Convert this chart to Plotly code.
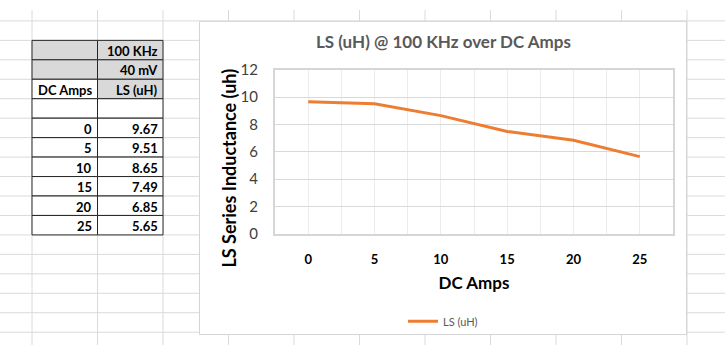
import plotly.graph_objects as go

W, H = 725, 353

# ---- data ----
dc_amps = [0, 5, 10, 15, 20, 25]
ls_uh = [9.67, 9.51, 8.65, 7.49, 6.85, 5.65]
series_name = "LS (uH)"
chart_title = "LS (uH) @ 100 KHz over DC Amps"
x_title = "DC Amps"
y_title = "LS Series Inductance (uh)"
table_col_a_head = ["", "", "DC Amps", ""]
table_col_b_head = ["100 KHz", "40 mV", "LS (uH)", ""]
y_ticks = [0, 2, 4, 6, 8, 10, 12]

FONT = "Lato"
ORANGE = "#ED7D31"

def px(x):
    return x / W

def py(y):
    return 1 - y / H

shapes = []
annotations = []
# spreadsheet grid
col_x = [32 + 65.5 * i for i in range(12)]
row_y = [11.5 + 20.5 * i for i in range(17)]
for x in col_x:
    shapes.append(dict(type="line", xref="paper", yref="paper", x0=px(x), x1=px(x), y0=0, y1=1,
                       line=dict(color="#dadada", width=1), layer="below"))
for y in row_y:
    shapes.append(dict(type="line", xref="paper", yref="paper", x0=0, x1=1, y0=py(y), y1=py(y),
                       line=dict(color="#dadada", width=1), layer="below"))

# table (cells drawn from the data arrays)
col_a = table_col_a_head + [str(v) for v in dc_amps]
col_b = table_col_b_head + [f"{v:.2f}" for v in ls_uh]
gray = "#d9d9d9"
fill_a = [gray, gray, "white", "white"] + ["white"] * len(dc_amps)
fill_b = [gray, gray, gray, "white"] + ["white"] * len(dc_amps)
tx0, tcw, ty0, trh = 32, 65.5, 32, 20.5
for c, (col, fills) in enumerate([(col_a, fill_a), (col_b, fill_b)]):
    for r, (txt, fc) in enumerate(zip(col, fills)):
        x0 = tx0 + c * tcw
        y0 = ty0 + r * trh
        shapes.append(dict(type="rect", xref="paper", yref="paper",
                           x0=px(x0), x1=px(x0 + tcw), y0=py(y0 + trh), y1=py(y0),
                           fillcolor=fc, line=dict(color="#262626", width=1), layer="below"))
        if txt:
            annotations.append(dict(text=txt, xref="paper", yref="paper",
                                    x=px(x0 + tcw - 3), y=py(y0 + trh / 2 + 1),
                                    xanchor="right", yanchor="middle", showarrow=False,
                                    font=dict(family=FONT, size=13, color="black", weight="bold")))

# chart box
shapes.append(dict(type="rect", xref="paper", yref="paper", x0=px(199.5), x1=px(686.5), y0=py(342), y1=py(12),
                   fillcolor="white", line=dict(color="#d4d4d4", width=1), layer="below"))

annotations.append(dict(text=chart_title, xref="paper", yref="paper", x=px(443), y=py(33),
                        xanchor="center", yanchor="middle", showarrow=False,
                        font=dict(family=FONT, size=17, color="#595959", weight="bold")))
annotations.append(dict(text=y_title, xref="paper", yref="paper", x=px(229), y=py(166),
                        xanchor="center", yanchor="middle", showarrow=False, textangle=-90,
                        font=dict(family=FONT, size=18, color="black", weight="bold")))

fig = go.Figure()
fig.add_trace(go.Scatter(x=dc_amps, y=ls_uh, mode="lines", name=series_name,
                         line=dict(color=ORANGE, width=3)))

fig.update_layout(
    width=W, height=H, margin=dict(l=0, r=0, t=0, b=0),
    paper_bgcolor="white", plot_bgcolor="rgba(0,0,0,0)",
    shapes=shapes, annotations=annotations,
    showlegend=True,
    legend=dict(orientation="h", x=px(443), y=py(328), xanchor="center", yanchor="middle",
                font=dict(family=FONT, size=11, color="#595959"), bgcolor="rgba(0,0,0,0)"),
    xaxis=dict(domain=[px(275), px(673)], range=[-2.5, 27.5], tickvals=dc_amps,
               showgrid=True, gridcolor="#ececec", gridwidth=1,
               minor=dict(tick0=-2.5, dtick=2.5, showgrid=True, gridcolor="#ececec"),
               zeroline=False, showline=True, mirror=True, linecolor="#d6d6d6", linewidth=2,
               ticks="outside", ticklen=12, tickcolor="rgba(0,0,0,0)",
               tickfont=dict(family=FONT, size=13, color="black", weight="bold"),
               title=dict(text=x_title, font=dict(family=FONT, size=17, color="black", weight="bold"), standoff=12)),
    yaxis=dict(domain=[py(236), py(63)], range=[0, 12], tickvals=y_ticks,
               showgrid=True, gridcolor="#d9d9d9", gridwidth=1, zeroline=False,
               showline=True, mirror=True, linecolor="#d6d6d6", linewidth=2,
               ticks="outside", ticklen=12, tickcolor="rgba(0,0,0,0)",
               tickfont=dict(family=FONT, size=15, color="#404040")),
)

fig.write_html("out.html")
